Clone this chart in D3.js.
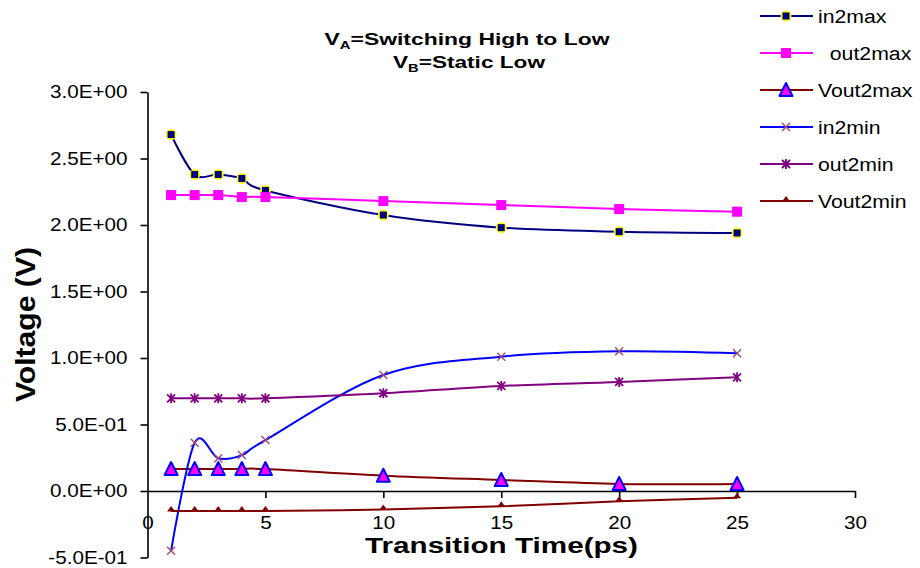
<!DOCTYPE html>
<html><head><meta charset="utf-8">
<script src="https://cdn.jsdelivr.net/npm/d3@7"></script>
<style>
html,body{margin:0;padding:0;background:#fff;}
text{font-family:"Liberation Sans",Arial,sans-serif;fill:#000;}
</style></head>
<body><svg id="c" width="920" height="568"></svg>
<script>
const times = [1, 2, 3, 4, 5, 10, 15, 20, 25];
const in2max  = [2.68, 2.38, 2.38, 2.35, 2.26, 2.075, 1.98, 1.95, 1.94];
const out2max = [2.225, 2.225, 2.225, 2.21, 2.21, 2.18, 2.15, 2.12, 2.10];
const Vout2max = [0.165, 0.165, 0.165, 0.165, 0.165, 0.115, 0.083, 0.053, 0.053];
const in2min  = [-0.45, 0.363, 0.246, 0.27, 0.383, 0.872, 1.01, 1.05, 1.035];
const out2min = [0.697, 0.697, 0.697, 0.697, 0.697, 0.735, 0.79, 0.82, 0.855];
const Vout2min = [-0.15, -0.15, -0.15, -0.15, -0.15, -0.14, -0.115, -0.078, -0.05];
const seriesNames = ["in2max", "  out2max", "Vout2max", "in2min", "out2min", "Vout2min"];
const yTicks = [3.0, 2.5, 2.0, 1.5, 1.0, 0.5, 0.0, -0.5];
const yTickLabels = ["3.0E+00", "2.5E+00", "2.0E+00", "1.5E+00", "1.0E+00", "5.0E-01", "0.0E+00", "-5.0E-01"];
const xTicks = [0, 5, 10, 15, 20, 25, 30];
const xTickLabels = ["0", "5", "10", "15", "20", "25", "30"];

const seriesValues = [in2max, out2max, Vout2max, in2min, out2min, Vout2min];
const styles = [
  {line:"#000080", marker:"sqcirc"},
  {line:"#ff00ff", marker:"square"},
  {line:"#800000", marker:"tri"},
  {line:"#0000ff", marker:"x"},
  {line:"#800080", marker:"star"},
  {line:"#800000", marker:"smalltri"}
];

const svg = d3.select("#c");
const x = d3.scaleLinear().domain([0, 30]).range([147.5, 855]);
const y = d3.scaleLinear().domain([-0.5, 3]).range([557.5, 92]);
const STRETCH = 1.18;

// axes
const yAxis = svg.append("g").attr("transform", "translate(147.5,0)")
  .call(d3.axisLeft(y).tickValues(yTicks).tickFormat((d, i) => yTickLabels[i]).tickSize(7).tickSizeOuter(0).tickPadding(13));
const xAxis = svg.append("g").attr("transform", `translate(0,${y(0)})`)
  .call(d3.axisBottom(x).tickValues(xTicks).tickFormat((d, i) => xTickLabels[i]).tickSize(7).tickSizeOuter(0).tickPadding(19));
[yAxis, xAxis].forEach(a => {
  a.selectAll("path,line").attr("stroke", "#000").attr("stroke-width", 1.6);
  a.selectAll("text").attr("font-size", 17.5).attr("fill", "#111").classed("st", true);
});
xAxis.selectAll(".tick").filter(d => d === 0).select("line").remove();

// lines
const line = d3.line().x(d => x(d[0])).y(d => y(d[1])).curve(d3.curveCardinal.tension(0));
const plot = svg.append("g");
seriesValues.forEach((vals, si) => {
  const pts = times.map((t, i) => [t, vals[i]]);
  plot.append("path").attr("d", line(pts)).attr("fill", "none")
    .attr("stroke", styles[si].line).attr("stroke-width", 2);
});

function marker(g, type, cx, cy) {
  if (type === "sqcirc") {
    g.append("circle").attr("cx", cx).attr("cy", cy).attr("r", 5.5).attr("fill", "#ffff00");
    g.append("rect").attr("x", cx - 3.5).attr("y", cy - 3.5).attr("width", 7).attr("height", 7).attr("fill", "#000080");
  } else if (type === "square") {
    g.append("rect").attr("x", cx - 5).attr("y", cy - 5).attr("width", 10).attr("height", 10).attr("fill", "#ff00ff");
  } else if (type === "tri") {
    g.append("path").attr("d", `M${cx},${cy - 7}L${cx + 6.5},${cy + 6}L${cx - 6.5},${cy + 6}Z`)
      .attr("fill", "#ff00ff").attr("stroke", "#0000ff").attr("stroke-width", 2).attr("stroke-linejoin", "round");
  } else if (type === "x") {
    g.append("path").attr("d", `M${cx - 4},${cy - 4}L${cx + 4},${cy + 4}M${cx - 4},${cy + 4}L${cx + 4},${cy - 4}`)
      .attr("stroke", "#a04a70").attr("stroke-width", 1.4);
  } else if (type === "star") {
    g.append("path").attr("d", `M${cx - 4},${cy - 4}L${cx + 4},${cy + 4}M${cx - 4},${cy + 4}L${cx + 4},${cy - 4}M${cx},${cy - 5}L${cx},${cy + 5}`)
      .attr("stroke", "#800080").attr("stroke-width", 1.8);
  } else if (type === "smalltri") {
    g.append("path").attr("d", `M${cx},${cy - 5}L${cx + 4},${cy + 0.5}L${cx - 4},${cy + 0.5}Z`).attr("fill", "#800000");
  }
}
seriesValues.forEach((vals, si) => {
  const g = plot.append("g");
  times.forEach((t, i) => marker(g, styles[si].marker, x(t), y(vals[i])));
});

// legend
const legRows = [16, 53, 90, 127, 164, 201];
seriesNames.forEach((name, i) => {
  const g = svg.append("g");
  g.append("line").attr("x1", 760).attr("x2", 813).attr("y1", legRows[i]).attr("y2", legRows[i])
    .attr("stroke", styles[i].line).attr("stroke-width", 2);
  marker(g, styles[i].marker, 786, legRows[i]);
  g.append("text").attr("x", 818).attr("y", legRows[i] + 6.5).attr("font-size", 18)
    .style("white-space", "pre").classed("st", true).text(name);
});

// stretch small texts horizontally like the reference
svg.selectAll("text.st").each(function () {
  const len = this.getComputedTextLength();
  d3.select(this).attr("textLength", len * STRETCH).attr("lengthAdjust", "spacingAndGlyphs");
});

// titles
const t1 = svg.append("text").attr("x", 467).attr("y", 45).attr("text-anchor", "middle")
  .attr("font-size", 17).attr("font-weight", "bold").attr("textLength", 285).attr("lengthAdjust", "spacingAndGlyphs");
t1.append("tspan").text("V");
t1.append("tspan").attr("dy", 4).attr("font-size", 11).text("A");
t1.append("tspan").attr("dy", -4).text("=Switching High to Low");
const t2 = svg.append("text").attr("x", 469).attr("y", 68).attr("text-anchor", "middle")
  .attr("font-size", 17).attr("font-weight", "bold").attr("textLength", 152).attr("lengthAdjust", "spacingAndGlyphs");
t2.append("tspan").text("V");
t2.append("tspan").attr("dy", 4).attr("font-size", 11).text("B");
t2.append("tspan").attr("dy", -4).text("=Static Low");

svg.append("text").attr("transform", "translate(35,324.5) rotate(-90)").attr("text-anchor", "middle")
  .attr("font-size", 27).attr("font-weight", "bold").attr("textLength", 155).attr("lengthAdjust", "spacingAndGlyphs")
  .text("Voltage (V)");
svg.append("text").attr("x", 501.5).attr("y", 553).attr("text-anchor", "middle")
  .attr("font-size", 22).attr("font-weight", "bold").attr("textLength", 273).attr("lengthAdjust", "spacingAndGlyphs")
  .text("Transition Time(ps)");
</script></body></html>
